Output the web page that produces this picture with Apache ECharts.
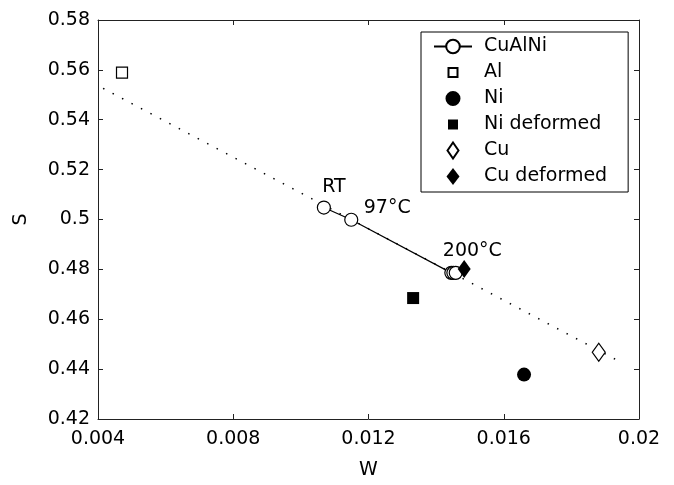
<!DOCTYPE html>
<html>
<head>
<meta charset="utf-8">
<script src="https://cdn.jsdelivr.net/npm/echarts@6/dist/echarts.min.js"></script>
<style>html,body{margin:0;padding:0;background:#fff}#c{width:674px;height:485px}</style>
</head>
<body>
<div id="c"></div>
<script>
// ---- data ----
var cuAlNiW = [0.01068, 0.01149, 0.01445, 0.01451, 0.01458];
var cuAlNiS = [0.5048, 0.4999, 0.4786, 0.4786, 0.4786];
var cuAlNiLabels = ['RT', '97°C', '200°C', '', ''];
var alPt = [0.00471, 0.5589];
var niPt = [0.0166, 0.4378];
var niDefPt = [0.01332, 0.4685];
var cuPt = [0.01881, 0.4468];
var cuDefPt = [0.01483, 0.4802];
var fitW = [0.00415, 0.0195];
var fitS = [0.5526, 0.4425];
var xTicks = ['0.004', '0.008', '0.012', '0.016', '0.02'];
var yTicks = ['0.42', '0.44', '0.46', '0.48', '0.5', '0.52', '0.54', '0.56', '0.58'];
var legendNames = ['CuAlNi', 'Al', 'Ni', 'Ni deformed', 'Cu', 'Cu deformed'];

var FONT = 'DejaVu Sans';
var FS = 19;
var labelOffsets = [[10, -20], [36, -12], [21, -22]];
var legendIcons = {
  'Al': 'path://M0,0M17,17M4,4H13V13H4Z',
  'Ni': 'path://M0,0M17,17M8.5,1A7.5,7.5,0,1,1,8.49,1Z',
  'Ni deformed': 'path://M0,0M17,17M3.5,3.5H13.5V13.5H3.5Z',
  'Cu': 'path://M0,0M17,17M8.5,0.5L14,8.5L8.5,16.5L3,8.5Z',
  'Cu deformed': 'path://M0,0M17,17M8.5,0L15,8.5L8.5,17L2,8.5Z'
};

var cuData = cuAlNiW.map(function (w, i) {
  var d = { value: [w, cuAlNiS[i]] };
  if (cuAlNiLabels[i]) {
    d.label = { show: true, formatter: cuAlNiLabels[i], position: 'inside', offset: labelOffsets[i],
      color: '#000', fontFamily: FONT, fontSize: FS };
  }
  return d;
});

function tickFmt(arr, min, step) {
  return function (v) { var k = Math.round((v - min) / step); return arr[k] !== undefined ? arr[k] : ''; };
}
var axisCol = '#222';
function xAx(pos, show) {
  return {
    type: 'value', position: pos, min: 0.004, max: 0.02, interval: 0.004,
    name: show ? 'W' : '', nameLocation: 'middle', nameGap: 42,
    nameTextStyle: { fontFamily: FONT, fontSize: FS, color: '#000' },
    axisLine: { show: true, onZero: false, lineStyle: { color: axisCol, width: 1 } },
    axisTick: { show: true, inside: true, length: 5, lineStyle: { color: axisCol } },
    axisLabel: { show: show, margin: 11, fontFamily: FONT, fontSize: FS, color: '#000', formatter: tickFmt(xTicks, 0.004, 0.004) },
    splitLine: { show: false }
  };
}
function yAx(pos, show) {
  return {
    type: 'value', position: pos, min: 0.42, max: 0.58, interval: 0.02,
    name: show ? 'S' : '', nameLocation: 'middle', nameGap: 67,
    nameTextStyle: { fontFamily: FONT, fontSize: FS, color: '#000' },
    axisLine: { show: true, onZero: false, lineStyle: { color: axisCol, width: 1 } },
    axisTick: { show: true, inside: true, length: 5, lineStyle: { color: axisCol } },
    axisLabel: { show: show, margin: 8, fontFamily: FONT, fontSize: FS, color: '#000', formatter: tickFmt(yTicks, 0.42, 0.02) },
    splitLine: { show: false }
  };
}

var chart = echarts.init(document.getElementById('c'), null, { renderer: 'canvas' });
chart.setOption({
  animation: false,
  backgroundColor: '#fff',
  grid: { left: 98, right: 35, top: 20, bottom: 65.5, containLabel: false },
  xAxis: [xAx('bottom', true), xAx('top', false)],
  yAxis: [yAx('left', true), yAx('right', false)],
  legend: {
    data: legendNames.map(function (n) { return legendIcons[n] ? { name: n, icon: legendIcons[n] } : { name: n }; }),
    orient: 'vertical', left: 421, top: 32, symbolKeepAspect: true,
    padding: [5, 21, 6, 12], itemWidth: 38, itemHeight: 17, itemGap: 7,
    backgroundColor: '#fff', borderColor: '#000', borderWidth: 1,
    textStyle: { fontFamily: FONT, fontSize: FS, color: '#000', padding: [0, 0, 0, 7] },
    selectedMode: false
  },
  series: [
    { name: 'fit', type: 'line', data: fitW.map(function (w, i) { return [w, fitS[i]]; }),
      showSymbol: false, symbol: 'none', silent: true,
      lineStyle: { color: '#000', width: 1.5, type: [1.5, 9.2] }, z: 1 },
    { name: 'CuAlNi', type: 'line', data: cuData, symbol: 'circle', symbolSize: 13,
      lineStyle: { color: '#000', width: 1.2 },
      itemStyle: { color: '#fff', borderColor: '#000', borderWidth: 1.2, opacity: 1 }, z: 2 },
    { name: 'Al', type: 'scatter', data: [alPt], symbol: 'rect', symbolSize: 11,
      itemStyle: { color: '#fff', borderColor: '#000', borderWidth: 1.2, opacity: 1 }, z: 3 },
    { name: 'Ni', type: 'scatter', data: [niPt], symbol: 'circle', symbolSize: 14,
      itemStyle: { color: '#000', opacity: 1 }, z: 3 },
    { name: 'Ni deformed', type: 'scatter', data: [niDefPt], symbol: 'rect', symbolSize: 12,
      itemStyle: { color: '#000', opacity: 1 }, z: 3 },
    { name: 'Cu', type: 'scatter', data: [cuPt], symbol: 'diamond', symbolSize: [13, 18],
      itemStyle: { color: '#fff', borderColor: '#000', borderWidth: 1.2, opacity: 1 }, z: 3 },
    { name: 'Cu deformed', type: 'scatter', data: [cuDefPt], symbol: 'diamond', symbolSize: [13, 18],
      itemStyle: { color: '#000', opacity: 1 }, z: 4 }
  ]
});
</script>
</body>
</html>
